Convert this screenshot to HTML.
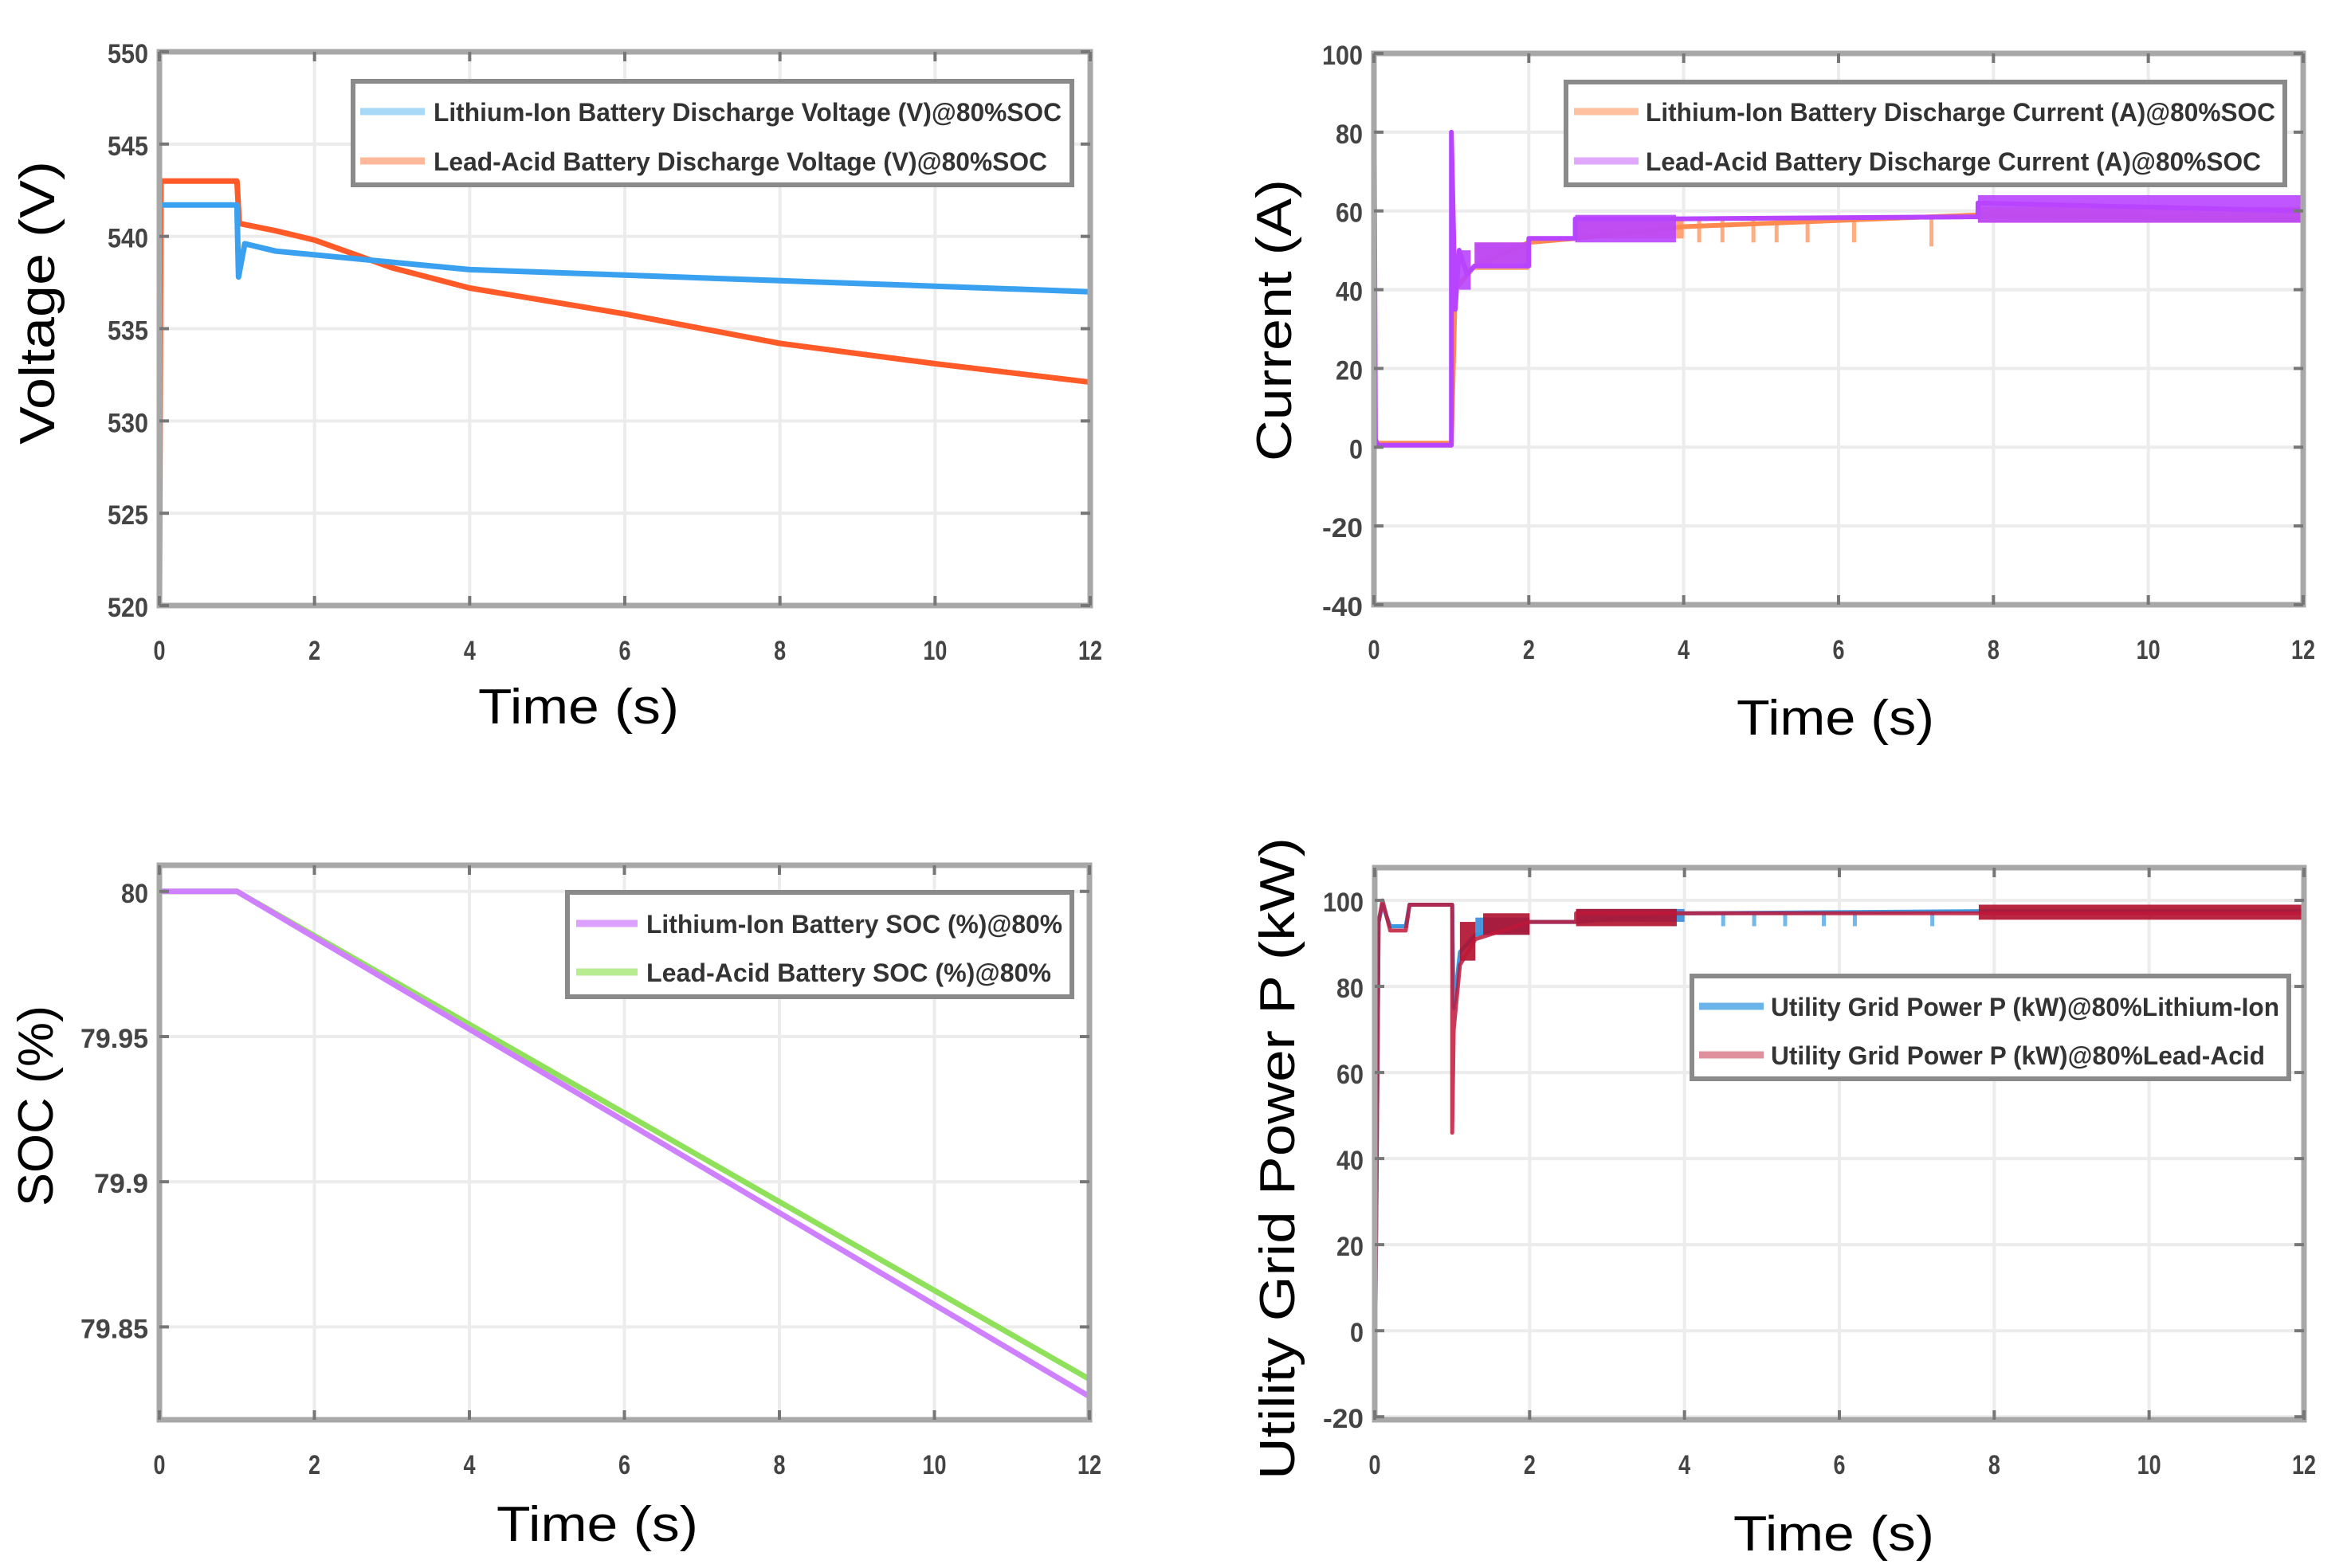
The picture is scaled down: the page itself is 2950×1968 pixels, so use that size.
<!DOCTYPE html>
<html><head><meta charset="utf-8"><style>
html,body{margin:0;padding:0;background:#fff;}
svg{display:block;}
.tick{font-family:"Liberation Sans",sans-serif;font-weight:bold;fill:#444;font-size:34px;}
.atitle{font-family:"Liberation Sans",sans-serif;fill:#000;font-size:62px;}
.leg{font-family:"Liberation Sans",sans-serif;font-weight:bold;fill:#333;font-size:32px;}
</style></head><body>
<svg id="fig" width="2950" height="1968" viewBox="0 0 2950 1968" xmlns="http://www.w3.org/2000/svg"></svg>
<script>
// ---------- DATA ----------
const xTicks = [0,2,4,6,8,10,12];
// Voltage panel
const vTicks = [520,525,530,535,540,545,550];
const liVoltage = [[0,541.7],[1.0,541.7],[1.02,537.8],[1.1,539.6],[1.5,539.2],[2,539.0],[3,538.6],[4,538.2],[6,537.9],[8,537.6],[10,537.3],[12,537.0]];
const leadVoltage = [[0,520],[0.02,543],[1.0,543],[1.03,540.7],[1.5,540.3],[2,539.8],[3,538.3],[4,537.2],[6,535.8],[8,534.2],[10,533.1],[12,532.1]];
// Current panel
const iTicks = [-40,-20,0,20,40,60,80,100];
const liCurrent = [[0,2],[0.02,1],[1.0,1],[1.05,40],[1.3,46],[2,52],[2.6,53],[4,56],[7.8,59],[12,58]];
const liCurrentBands = [[1.3,2.0,45,52],[2.6,4.0,53,58.5],[7.8,12,57,61]];
const liCurrentSpikes = [[4.2,52],[4.5,52],[4.9,52],[5.2,52],[5.6,52],[6.2,52],[7.2,51]];
const leadCurrent = [[0,100],[0.02,2],[0.05,0.5],[1.0,0.5],[1.0,80],[1.05,35],[1.1,50],[1.2,44],[1.3,46],[2,46],[2,53],[2.6,53],[2.6,58],[4,58],[7.8,58.5],[7.8,62],[12,60]];
const leadCurrentBands = [[1.1,1.25,40,50],[1.3,2.0,46,52],[2.6,3.9,52,59],[7.8,12,57,64]];
// SOC panel
const socTicks = [79.85,79.9,79.95,80];
const liSOC = [[0,80],[1,80],[12,79.826]];
const leadSOC = [[0,80],[1,80],[12,79.832]];
// Power panel
const pTicks = [-20,0,20,40,60,80,100];
const liPower = [[0,-17],[0.05,95],[0.1,99],[0.2,94],[0.4,94],[0.45,99],[1.0,99],[1.02,75],[1.1,88],[1.3,92],[2,95],[2.6,95],[4,97],[7.8,97.5],[12,97.5]];
const liPowerBands = [[1.3,2.0,92,96],[2.6,4.0,95,98]];
const liPowerSpikes = [[4.5,94],[4.9,94],[5.3,94],[5.8,94],[6.2,94],[7.2,94]];
const leadPower = [[0,-17],[0.05,95],[0.1,100],[0.2,93],[0.4,93],[0.45,99],[1.0,99],[1.0,46],[1.02,70],[1.1,85],[1.3,91],[2,95],[2.6,95],[2.6,97],[4,97],[7.8,97],[12,97]];
const leadPowerBands = [[1.1,1.3,86,95],[1.4,2.0,92,97],[2.6,3.9,94,98],[7.8,12,95.5,99]];

// ---------- DRAW ----------
const NS='http://www.w3.org/2000/svg';
const svg=document.getElementById('fig');
function mk(tag,attrs,parent){const e=document.createElementNS(NS,tag);for(const k in attrs)e.setAttribute(k,attrs[k]);(parent||svg).appendChild(e);return e;}

function panel(cfg){
  const g=mk('g',{});
  
  
  const sx=t=>cfg.x0+(t-0)/12*(cfg.x1-cfg.x0);
  const sy=v=>cfg.y1-(v-cfg.ymin)/(cfg.ymax-cfg.ymin)*(cfg.y1-cfg.y0);
  // grid
  xTicks.forEach(t=>{const l=mk('line',{x1:sx(t),x2:sx(t),y1:cfg.y0,y2:cfg.y1,stroke:'#ececec','stroke-width':4},g);
    });
  cfg.yTicks.forEach(v=>{const l=mk('line',{x1:cfg.x0,x2:cfg.x1,y1:sy(v),y2:sy(v),stroke:'#ececec','stroke-width':4},g);
    });
  // series
  cfg.series.forEach(s=>{
    const sg=mk('g',{},g);
    
    
    (s.bands||[]).forEach(b=>{const r=mk('rect',{x:sx(b[0]),y:sy(b[3]),width:sx(b[1])-sx(b[0]),height:sy(b[2])-sy(b[3]),fill:s.band||s.color,opacity:0.9},sg);
      });
    (s.spikes||[]).forEach(p=>{let base=s.spikeBase;const l=mk('line',{x1:sx(p[0]),x2:sx(p[0]),y1:sy(base),y2:sy(p[1]),stroke:s.color,'stroke-width':5,opacity:0.7},sg);
      });
    const d=s.pts.map((p,i)=>(i?'L':'M')+sx(p[0]).toFixed(1)+' '+sy(p[1]).toFixed(1)).join(' ');
    const pth=mk('path',{d:d,fill:'none',stroke:s.color,'stroke-width':s.w||6,'stroke-linejoin':'round',opacity:s.op||1},sg);
    
  });
  // box
  const bx=mk('rect',{x:cfg.x0,y:cfg.y0,width:cfg.x1-cfg.x0,height:cfg.y1-cfg.y0,fill:'none',stroke:'#a8a8a8','stroke-width':7},g);
  
  // ticks
  xTicks.forEach(t=>{
    mk('line',{x1:sx(t),x2:sx(t),y1:cfg.y1,y2:cfg.y1-12,stroke:'#777','stroke-width':4},g);
    mk('line',{x1:sx(t),x2:sx(t),y1:cfg.y0,y2:cfg.y0+12,stroke:'#777','stroke-width':4},g);
    const tx=mk('text',{x:sx(t),y:cfg.y1+68,'text-anchor':'middle',class:'tick',textLength:String(t).length*15,lengthAdjust:'spacingAndGlyphs'},g);
    tx.textContent=t;
  });
  cfg.yTicks.forEach(v=>{
    mk('line',{x1:cfg.x0,x2:cfg.x0+12,y1:sy(v),y2:sy(v),stroke:'#777','stroke-width':4},g);
    mk('line',{x1:cfg.x1,x2:cfg.x1-12,y1:sy(v),y2:sy(v),stroke:'#777','stroke-width':4},g);
    const s=String(v);
    const tx=mk('text',{x:cfg.x0-14,y:sy(v)+14,'text-anchor':'end',class:'tick',textLength:s.length*17,lengthAdjust:'spacingAndGlyphs'},g);
    tx.textContent=s;
  });
  // titles
  const xt=mk('text',{x:cfg.xt[0],y:cfg.xt[1],class:'atitle',textLength:cfg.xt[2],lengthAdjust:'spacingAndGlyphs'},g);
  xt.textContent='Time (s)';
  const yt=mk('text',{x:0,y:0,class:'atitle','text-anchor':'middle',transform:`translate(${cfg.yt[0]},${cfg.yt[1]}) rotate(-90)`,textLength:cfg.yt[2],lengthAdjust:'spacingAndGlyphs'},g);
  yt.textContent=cfg.ytitle;
  // legend
  const L=cfg.legend;
  const lg=mk('g',{},g);
  
  mk('rect',{x:L.x0,y:L.y0,width:L.x1-L.x0,height:L.y1-L.y0,fill:'#fff',stroke:'#8a8a8a','stroke-width':6},lg);
  L.items.forEach((it,i)=>{
    const y=L.ys[i];
    const ln=mk('line',{x1:L.lx0,x2:L.lx1,y1:y,y2:y,stroke:it.color,'stroke-width':9},lg);
    
    const tx=mk('text',{x:L.tx,y:y+12,class:'leg',textLength:it.len,lengthAdjust:'spacingAndGlyphs'},lg);
    tx.textContent=it.label;
  });
}

panel({name:'voltage-chart',x0:200,x1:1368,y0:65,y1:760,ymin:520,ymax:550,yTicks:vTicks,
  ytitle:'Voltage (V)',yt:[68,380,356],xt:[600,908,252],
  series:[
    {name:'lead-acid-voltage',pts:leadVoltage,color:'#ff5a28',w:7},
    {name:'lithium-ion-voltage',pts:liVoltage,color:'#3aa0f0',w:7}
  ],
  legend:{x0:443,x1:1345,y0:102,y1:232,ys:[140,202],lx0:452,lx1:533,tx:544,
    items:[{label:'Lithium-Ion Battery Discharge Voltage (V)@80%SOC',color:'#a8daf8',len:788},
           {label:'Lead-Acid Battery Discharge Voltage (V)@80%SOC',color:'#ffb89a',len:770}]}
});

panel({name:'current-chart',x0:1724,x1:2890,y0:67,y1:759,ymin:-40,ymax:100,yTicks:iTicks,
  ytitle:'Current (A)',yt:[1620,402,354],xt:[2179,922,248],
  series:[
    {name:'lithium-ion-current',pts:liCurrent,color:'#ff8a50',band:'#ff9a66',bands:liCurrentBands,spikes:liCurrentSpikes,spikeBase:58,w:6},
    {name:'lead-acid-current',pts:leadCurrent,color:'#b844ff',band:'#b844ff',bands:leadCurrentBands,w:6}
  ],
  legend:{x0:1965,x1:2867,y0:103,y1:232,ys:[140,202],lx0:1975,lx1:2056,tx:2065,
    items:[{label:'Lithium-Ion Battery Discharge Current (A)@80%SOC',color:'#ffc0a0',len:790},
           {label:'Lead-Acid Battery Discharge Current (A)@80%SOC',color:'#e0a8ff',len:772}]}
});

panel({name:'soc-chart',x0:200,x1:1367,y0:1086,y1:1782,ymin:79.818,ymax:80.009,yTicks:socTicks,
  ytitle:'SOC (%)',yt:[66,1388,252],xt:[623,1934,253],
  series:[
    {name:'lead-acid-soc',pts:leadSOC,color:'#8fe05a',w:7},
    {name:'lithium-ion-soc',pts:liSOC,color:'#cf80ff',w:7}
  ],
  legend:{x0:712,x1:1345,y0:1120,y1:1251,ys:[1159,1220],lx0:723,lx1:800,tx:811,
    items:[{label:'Lithium-Ion Battery SOC (%)@80%',color:'#dca0ff',len:522},
           {label:'Lead-Acid Battery SOC (%)@80%',color:'#b8ec90',len:508}]}
});

panel({name:'grid-power-chart',x0:1725,x1:2891,y0:1089,y1:1782,ymin:-20.7,ymax:107.6,yTicks:pTicks,
  ytitle:'Utility Grid Power P (kW)',yt:[1624,1454,806],xt:[2175,1946,252],
  series:[
    {name:'lithium-ion-grid-power',pts:liPower,color:'#3a9ae0',band:'#3a8ad8',bands:liPowerBands,spikes:liPowerSpikes,spikeBase:97.5,w:5},
    {name:'lead-acid-grid-power',pts:leadPower,color:'#c01838',band:'#b0102e',bands:leadPowerBands,w:5,op:0.85}
  ],
  legend:{x0:2123,x1:2872,y0:1225,y1:1354,ys:[1263,1324],lx0:2132,lx1:2213,tx:2222,
    items:[{label:'Utility Grid Power P (kW)@80%Lithium-Ion',color:'#6ab4ea',len:638},
           {label:'Utility Grid Power P (kW)@80%Lead-Acid',color:'#e0909c',len:620}]}
});
</script>
</body></html>
